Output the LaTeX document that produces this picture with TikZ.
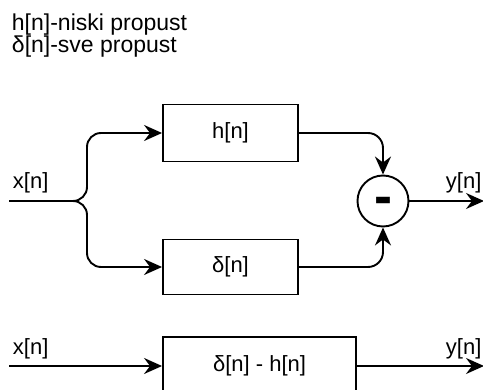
\documentclass[tikz,border=0pt]{standalone}
\usepackage{fontspec}
\setmainfont{Liberation Sans}
\usetikzlibrary{arrows.meta}
\begin{document}
\begin{tikzpicture}[x=1pt, y=-1pt, >={Stealth[length=18pt,width=16pt,inset=6pt]}, line width=1.9pt,
	font=\fontsize{22}{22}\selectfont,
	blok/.style={draw, rectangle, minimum width=135pt, minimum height=57pt, inner sep=0pt},
	lbl/.style={anchor=base west, inner sep=0pt}]
\path[use as bounding box, clip] (0,0) rectangle (483,390);

\node[lbl, font=\fontsize{23}{23}\selectfont] (opis1) at (11,31) {h[n]-niski propust};
\node[lbl, font=\fontsize{23}{23}\selectfont] (opis2) at (11,53) {δ[n]-sve propust};

% gornja shema
\coordinate (ulaz) at (9,201);
\coordinate (grana) at (87,201);
\coordinate (izlaz) at (484,201);
\node[blok] (hbox) at (230.5,133) {h[n]};
\node[blok, minimum height=55pt] (dbox) at (230.5,267) {δ[n]};
\node[circle, draw, minimum size=51pt, inner sep=0pt, text height=28pt, text depth=0pt,
	font=\fontsize{54}{54}\selectfont\bfseries] (minus) at (383,201) {-};
\node[lbl] (xlab) at (12,189) {x[n]};
\node[lbl] (ylab) at (445,189) {y[n]};

\draw[->, rounded corners=14pt] (ulaz) -- (grana) |- (hbox.west);
\draw[->, rounded corners=14pt] (ulaz) -- (grana) |- (dbox.west);
\draw[->, rounded corners=15pt] (hbox.east) -| (minus.north);
\draw[->, rounded corners=15pt] (dbox.east) -| (minus.south);
\draw[->] (minus.east) -- (izlaz);

% donja shema
\coordinate (ulaz2) at (9,366);
\coordinate (izlaz2) at (484,366);
\node[blok, minimum width=193pt, minimum height=58pt] (ukupno) at (259.5,366) {δ[n] - h[n]};
\node[lbl] (xlab2) at (12,355) {x[n]};
\node[lbl] (ylab2) at (445,355) {y[n]};

\draw[->] (ulaz2) -- (ukupno.west);
\draw[->] (ukupno.east) -- (izlaz2);

\end{tikzpicture}
\end{document}
